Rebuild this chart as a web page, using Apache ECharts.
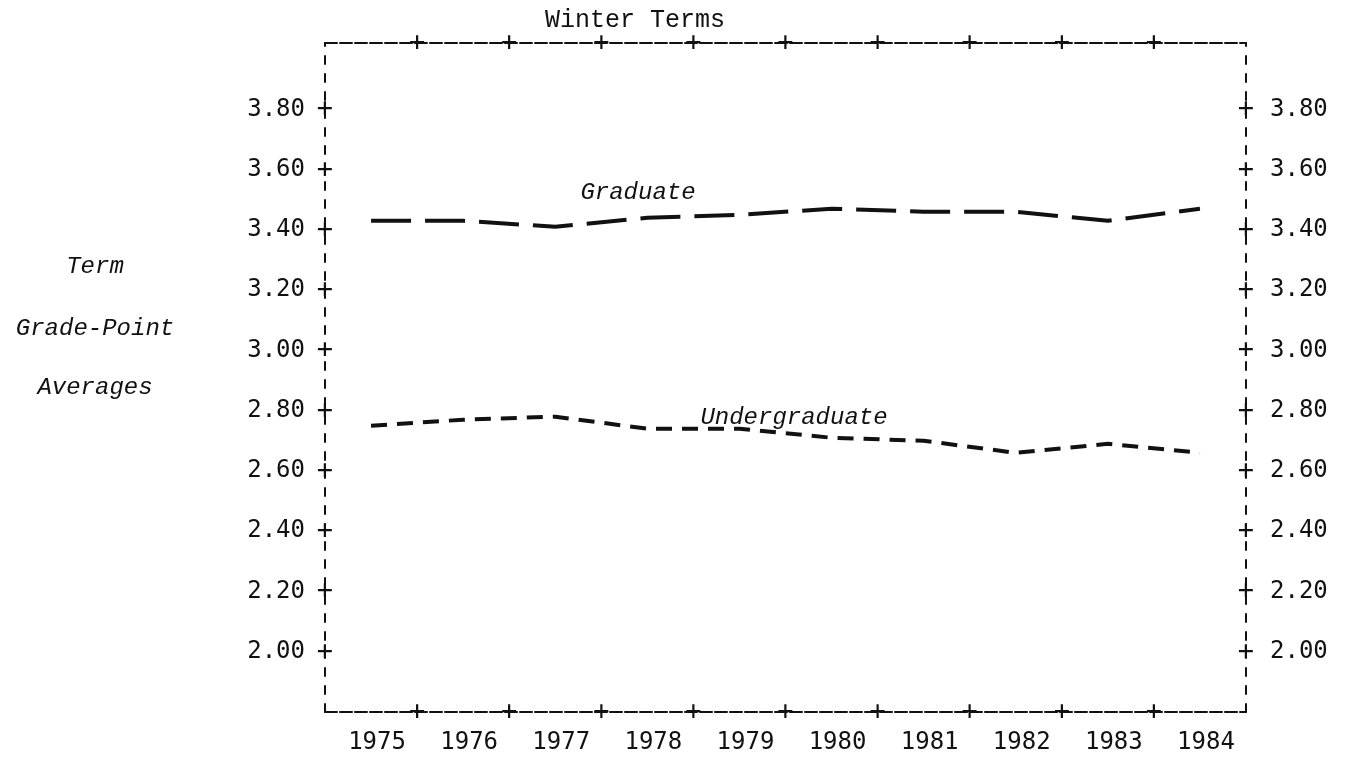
<!DOCTYPE html>
<html>
<head>
<meta charset="utf-8">
<script src="https://cdn.jsdelivr.net/npm/echarts@6/dist/echarts.min.js"></script>
<style>
  html, body { margin: 0; padding: 0; background: #fff; }
  #gpaChart { width: 1347px; height: 759px; }
</style>
</head>
<body>
<div id="gpaChart"></div>
<script>
// winter term GPA
const years = ['1975', '1976', '1977', '1978', '1979', '1980', '1981', '1982', '1983', '1984'];
const graduate = [3.43, 3.43, 3.41, 3.44, 3.45, 3.47, 3.46, 3.46, 3.43, 3.47];
const undergraduate = [2.75, 2.77, 2.78, 2.74, 2.74, 2.71, 2.70, 2.66, 2.69, 2.66];
// "+" marks along top / bottom border sit on the year boundaries
const borderMarks = ['', '+', '+', '+', '+', '+', '+', '+', '+', '+', ''];

const numFont = 'DejaVu Sans Mono';
const ink = '#111';
const numSize = 24;
const plusSize = 27;

const yMin = 1.8, yMax = 4.02, yStep = 0.2;

function yLabel(v) {
  return (v > 1.95 && v < 3.85) ? Number(v).toFixed(2) : '';
}
function yPlus(v) {
  return (v > 1.95 && v < 3.85) ? '+' : '';
}

// plain value axis for the y side, every copy shares the same scale
function yAxisBase(pos) {
  return {
    type: 'value',
    position: pos,
    min: yMin,
    max: yMax,
    interval: yStep,
    splitLine: { show: false },
    axisTick: { show: false },
    axisLine: { show: false }
  };
}
function xMarkAxis(pos) {
  return {
    type: 'category',
    position: pos,
    boundaryGap: false,
    data: borderMarks,
    axisTick: { show: false },
    axisLine: {
      show: true,
      lineStyle: { color: ink, width: 2, type: [12, 3] }
    },
    axisLabel: {
      interval: 0,
      margin: 0,
      verticalAlign: 'middle',
      fontFamily: numFont,
      fontSize: plusSize,
      color: ink
    }
  };
}

const chart = echarts.init(document.getElementById('gpaChart'));

const option = {
  animation: false,
  backgroundColor: '#fff',
  grid: { left: 325, right: 101, top: 43, bottom: 47 },
  xAxis: [
    {
      type: 'category',
      position: 'bottom',
      boundaryGap: true,
      data: years,
      axisLine: { show: false },
      axisTick: { show: false },
      axisLabel: {
        interval: 0,
        margin: 19,
        padding: [0, 0, 0, 12],
        fontFamily: numFont,
        fontSize: numSize,
        color: ink
      }
    },
    xMarkAxis('bottom'),
    xMarkAxis('top')
  ],
  yAxis: [
    Object.assign(yAxisBase('left'), {
      axisLabel: { formatter: yLabel, margin: 20, fontFamily: numFont, fontSize: numSize, color: ink }
    }),
    Object.assign(yAxisBase('left'), {
      axisLine: { show: true, lineStyle: { color: ink, width: 2, type: [8, 10] } },
      axisLabel: { formatter: yPlus, margin: 0, align: 'center', fontFamily: numFont, fontSize: plusSize, color: ink }
    }),
    Object.assign(yAxisBase('right'), {
      axisLabel: { formatter: yLabel, margin: 24, fontFamily: numFont, fontSize: numSize, color: ink }
    }),
    Object.assign(yAxisBase('right'), {
      axisLine: { show: true, lineStyle: { color: ink, width: 2, type: [8, 10] } },
      axisLabel: { formatter: yPlus, margin: 0, align: 'center', fontFamily: numFont, fontSize: plusSize, color: ink }
    })
  ],
  series: [
    {
      name: 'Graduate',
      type: 'line',
      xAxisIndex: 0,
      yAxisIndex: 0,
      data: graduate,
      symbol: 'none',
      lineStyle: { color: ink, width: 4, type: [40, 14] }
    },
    {
      name: 'Undergraduate',
      type: 'line',
      xAxisIndex: 0,
      yAxisIndex: 0,
      data: undergraduate,
      symbol: 'none',
      lineStyle: { color: ink, width: 4, type: [16, 10] }
    }
  ],
  graphic: [
    {
      type: 'text', x: 635, y: 20,
      style: { text: 'Winter Terms', font: '25px "Liberation Mono"', fill: ink, align: 'center', verticalAlign: 'middle' }
    },
    {
      type: 'text', x: 95, y: 267,
      style: { text: 'Term', font: 'italic 24px "Liberation Mono"', fill: ink, align: 'center', verticalAlign: 'middle' }
    },
    {
      type: 'text', x: 95, y: 329,
      style: { text: 'Grade-Point', font: 'italic 24px "Liberation Mono"', fill: ink, align: 'center', verticalAlign: 'middle' }
    },
    {
      type: 'text', x: 95, y: 388,
      style: { text: 'Averages', font: 'italic 24px "Liberation Mono"', fill: ink, align: 'center', verticalAlign: 'middle' }
    },
    {
      type: 'text', x: 638, y: 193,
      style: { text: 'Graduate', font: 'italic 24px "Liberation Mono"', fill: ink, align: 'center', verticalAlign: 'middle' }
    },
    {
      type: 'text', x: 794, y: 418,
      style: { text: 'Undergraduate', font: 'italic 24px "Liberation Mono"', fill: ink, align: 'center', verticalAlign: 'middle' }
    }
  ]
};

chart.setOption(option);
window.onresize = chart.resize;
</script>
</body>
</html>
